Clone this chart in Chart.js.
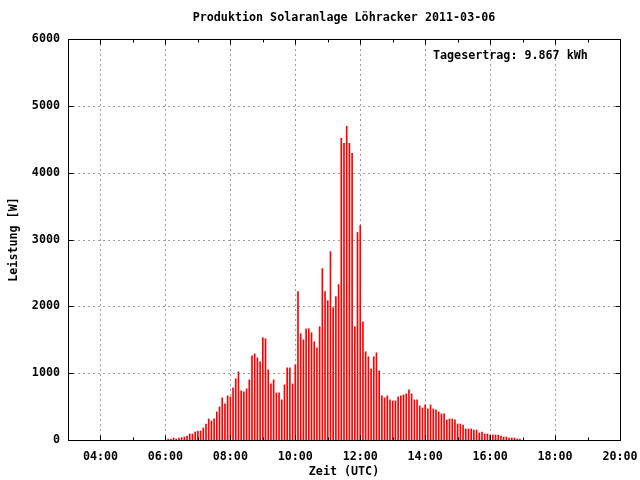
<!DOCTYPE html>
<html lang="de">
<head>
  <meta charset="UTF-8" />
  <title>Produktion Solaranlage Löhracker 2011-03-06</title>
  <script src="https://cdn.jsdelivr.net/npm/chart.js"></script>
  <style>
    body { margin: 0; background: #fff; }
  </style>
</head>
<body>
<canvas id="chart" width="640" height="480"></canvas>

<script>
  // first sample 06:05, then one every 5 minutes
  const firstSample = 6 + 5 / 60;
  const sampleStep = 5 / 60;

  // power in W
  const leistung = [
    15, 10, 30, 15, 30, 35, 45, 60, 90, 90, 120, 135,
    135, 180, 240, 315, 285, 315, 420, 495, 630, 540, 660, 645,
    780, 915, 1020, 735, 720, 765, 900, 1260, 1290, 1230, 1170, 1530,
    1515, 1050, 840, 900, 705, 705, 600, 825, 1080, 1080, 840, 1125,
    2220, 1590, 1500, 1665, 1665, 1605, 1470, 1380, 1695, 2565, 2220, 2085,
    2820, 1980, 2145, 2325, 4515, 4440, 4695, 4440, 4290, 1695, 3105, 3210,
    1770, 1320, 1245, 1065, 1245, 1305, 1035, 660, 630, 660, 600, 585,
    585, 645, 660, 675, 690, 750, 690, 600, 600, 510, 480, 525,
    465, 525, 465, 450, 420, 390, 390, 300, 315, 315, 300, 240,
    240, 225, 165, 165, 165, 150, 150, 105, 120, 90, 90, 75,
    75, 75, 75, 60, 45, 45, 30, 30, 30, 15, 15
  ];

  const xTicks = [4, 6, 8, 10, 12, 14, 16, 18, 20];
  const xMinorTicks = [5, 7, 9, 11, 13, 15, 17, 19];
  const yTicks = [0, 1000, 2000, 3000, 4000, 5000, 6000];

  const titel = 'Produktion Solaranlage Löhracker 2011-03-06';
  const ertrag = 'Tagesertrag: 9.867 kWh';

  const points = leistung.map((v, i) => ({ x: firstSample + i * sampleStep, y: v }));
  const font = '"DejaVu Sans Mono", monospace';
  const fontSize = 11.7;

  // gnuplot look: dashed grid, frame, inward ticks, texts
  const gnuplotFrame = {
    id: 'gnuplotFrame',
    beforeDatasetsDraw(chart) {
      const { ctx, chartArea: a, scales: { x, y } } = chart;
      ctx.save();
      ctx.strokeStyle = '#a0a0a0';
      ctx.lineWidth = 1;
      ctx.setLineDash([2, 3]);
      xTicks.forEach(v => {
        const px = Math.round(x.getPixelForValue(v)) + 0.5;
        ctx.beginPath(); ctx.moveTo(px, a.top); ctx.lineTo(px, a.bottom); ctx.stroke();
      });
      yTicks.forEach(v => {
        const py = Math.round(y.getPixelForValue(v)) + 0.5;
        ctx.beginPath(); ctx.moveTo(a.left, py); ctx.lineTo(a.right, py); ctx.stroke();
      });
      ctx.restore();
    },
    afterDraw(chart) {
      const { ctx, chartArea: a, scales: { x, y } } = chart;
      const l = Math.round(a.left) + 0.5, r = Math.round(a.right) + 0.5;
      const t = Math.round(a.top) + 0.5, b = Math.round(a.bottom) + 0.5;
      ctx.save();
      ctx.strokeStyle = '#000';
      ctx.lineWidth = 1;
      ctx.strokeRect(l, t, r - l, b - t);

      ctx.beginPath();
      const tick = (v, len) => {
        const px = Math.round(x.getPixelForValue(v)) + 0.5;
        ctx.moveTo(px, b); ctx.lineTo(px, b - len);
        ctx.moveTo(px, t); ctx.lineTo(px, t + len);
      };
      xTicks.forEach(v => tick(v, 5));
      xMinorTicks.forEach(v => tick(v, 3));
      yTicks.forEach(v => {
        const py = Math.round(y.getPixelForValue(v)) + 0.5;
        ctx.moveTo(l, py); ctx.lineTo(l + 5, py);
        ctx.moveTo(r, py); ctx.lineTo(r - 5, py);
      });
      ctx.stroke();

      ctx.fillStyle = '#000';
      ctx.font = 'bold ' + fontSize + 'px ' + font;
      ctx.textBaseline = 'middle';
      ctx.textAlign = 'center';
      ctx.fillText(titel, (a.left + a.right) / 2, 18);
      ctx.fillText('Zeit (UTC)', (a.left + a.right) / 2, 472);
      ctx.textAlign = 'left';
      ctx.fillText(ertrag, 433, 56);

      ctx.translate(14, (a.top + a.bottom) / 2);
      ctx.rotate(-Math.PI / 2);
      ctx.textAlign = 'center';
      ctx.fillText('Leistung [W]', 0, 0);
      ctx.restore();
    }
  };

  new Chart(document.getElementById('chart'), {
    type: 'bar',
    data: {
      datasets: [{
        data: points,
        backgroundColor: '#ff0000',
        barThickness: 1,
        grouped: false
      }]
    },
    options: {
      responsive: false,
      animation: false,
      layout: { padding: { left: 0, top: 39, right: 20, bottom: 0 } },
      plugins: { legend: { display: false }, tooltip: { enabled: false } },
      scales: {
        x: {
          type: 'linear',
          min: 3,
          max: 20,
          offset: false,
          afterBuildTicks: s => { s.ticks = xTicks.map(v => ({ value: v })); },
          afterFit: s => { s.height = 40; s.paddingLeft = 0; s.paddingRight = 0; },
          grid: { display: false, drawTicks: false },
          border: { display: false },
          ticks: {
            padding: 10,
            color: '#000',
            font: { family: font, size: fontSize, weight: 'bold' },
            maxRotation: 0,
            autoSkip: false,
            callback: v => String(v).padStart(2, '0') + ':00'
          }
        },
        y: {
          min: 0,
          max: 6000,
          afterBuildTicks: s => { s.ticks = yTicks.map(v => ({ value: v })); },
          afterFit: s => { s.width = 68; s.paddingTop = 0; s.paddingBottom = 0; },
          grid: { display: false, drawTicks: false },
          border: { display: false },
          ticks: {
            padding: 8,
            color: '#000',
            font: { family: font, size: fontSize, weight: 'bold' },
            callback: v => String(v)
          }
        }
      }
    },
    plugins: [gnuplotFrame]
  });
</script>
</body>
</html>
